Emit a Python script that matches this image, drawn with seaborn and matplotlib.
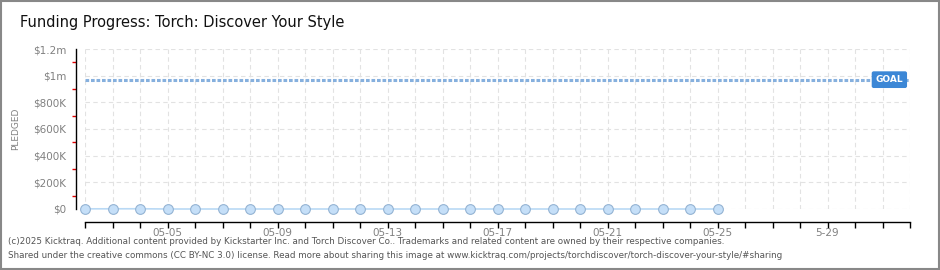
import pandas as pd
import numpy as np
import matplotlib
matplotlib.use("Agg")
import matplotlib.pyplot as plt
import matplotlib.dates as mdates
from matplotlib.patches import Rectangle
import seaborn as sns

# Data
dates = pd.date_range("2025-05-02", "2025-05-25", freq="D")
pledged = [1200, 1500, 1800, 0, 0, 0, 0, 0, 0, 0, 0, 0,
           0, 0, 0, 0, 0, 0, 0, 0, 0, 0, 0, 0]
goal = 970000
y_ticks = [0, 200000, 400000, 600000, 800000, 1000000, 1200000]
y_labels = ["$0", "$200K", "$400K", "$600K", "$800K", "$1m", "$1.2m"]
x_label_dates = ["2025-05-05", "2025-05-09", "2025-05-13", "2025-05-17",
                 "2025-05-21", "2025-05-25", "2025-05-29"]
x_labels = ["05-05", "05-09", "05-13", "05-17", "05-21", "05-25", "5-29"]
x_start, x_end = "2025-05-02", "2025-06-01"

df = pd.DataFrame({"date": dates, "pledged": pledged})

sns.set_style("white")
plt.rcParams["font.family"] = ["DejaVu Sans"]

fig = plt.figure(figsize=(9.4, 2.7), dpi=100)
ax = fig.add_axes([85 / 940, 61 / 270, 825 / 940, 160 / 270])

sns.lineplot(data=df, x="date", y="pledged", ax=ax, color="#b9d9f5", linewidth=1.2,
             marker="o", markersize=7, markerfacecolor="#c5dff8",
             markeredgecolor="#94b3d3", markeredgewidth=0.8, clip_on=False, zorder=5)

# goal line
ax.axhline(goal, color="#86b0de", linewidth=2.2, linestyle=(0, (1.2, 0.6)), zorder=3)
ax.text(0.975, goal, "GOAL", transform=ax.get_yaxis_transform(), ha="center", va="center",
        fontsize=6.5, color="white", fontweight="bold",
        bbox=dict(boxstyle="round,pad=0.35,rounding_size=0.15", fc="#3c87d6", ec="#3c87d6"),
        zorder=6)

ax.set_xlim(pd.Timestamp(x_start), pd.Timestamp(x_end))
ax.set_ylim(0, 1200000)

# y axis
ax.set_yticks(y_ticks)
ax.set_yticklabels(y_labels)
ax.set_yticks([100000, 300000, 500000, 700000, 900000, 1100000], minor=True)
ax.tick_params(axis="y", which="major", direction="inout", length=6, width=1,
               color="black", labelsize=7.5, labelcolor="#808080", pad=4)
ax.tick_params(axis="y", which="minor", direction="out", length=3, width=1,
               color="#e00000", left=True)

# x axis
day_ticks = mdates.date2num(pd.date_range(x_start, x_end, freq="D"))
ax.set_xticks(day_ticks)
lbl = {mdates.date2num(pd.Timestamp(d)): t for d, t in zip(x_label_dates, x_labels)}
ax.set_xticklabels([lbl.get(d, "") for d in day_ticks])
ax.tick_params(axis="x", which="major", direction="out", length=4, width=1,
               color="black", labelsize=7.5, labelcolor="#808080", pad=0.5, bottom=True)

ax.set_xlabel("")
ax.set_ylabel("PLEDGED", fontsize=6.5, color="#808080", labelpad=9)

# grid
ax.grid(True, which="major", color="#e2e2e2", linestyle=(0, (4, 3)), linewidth=0.8)
ax.set_axisbelow(True)

sns.despine(ax=ax, right=True, top=True)
ax.spines["left"].set_position(("outward", 6.5))
ax.spines["bottom"].set_position(("outward", 9.5))
for s in ["left", "bottom"]:
    ax.spines[s].set_color("black")
    ax.spines[s].set_linewidth(1)

# title & footer
fig.text(20 / 940, 1 - 23 / 270, "Funding Progress: Torch: Discover Your Style",
         fontsize=10.5, color="#111111", va="center", ha="left")
fig.text(8 / 940, 1 - 242 / 270,
         "(c)2025 Kicktraq. Additional content provided by Kickstarter Inc. and Torch Discover Co.. "
         "Trademarks and related content are owned by their respective companies.",
         fontsize=6.3, color="#555555", va="center", ha="left")
fig.text(8 / 940, 1 - 256 / 270,
         "Shared under the creative commons (CC BY-NC 3.0) license. Read more about sharing this image at "
         "www.kicktraq.com/projects/torchdiscover/torch-discover-your-style/#sharing",
         fontsize=6.3, color="#555555", va="center", ha="left")

# border
fig.patches.append(Rectangle((0.001, 0.002), 0.998, 0.996, transform=fig.transFigure,
                             fill=False, edgecolor="#888888", linewidth=1.5))

fig.savefig("out.png", dpi=100)
